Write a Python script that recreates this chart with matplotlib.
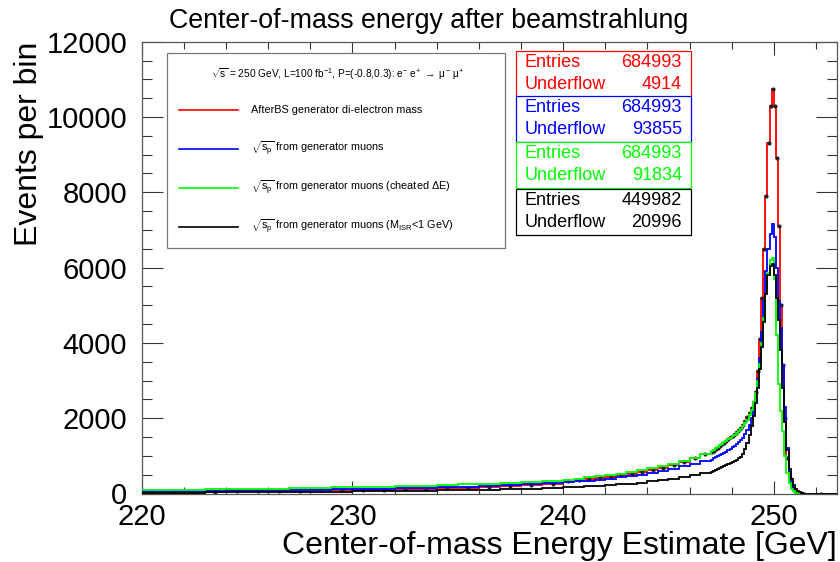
import numpy as np
import matplotlib
matplotlib.use('Agg')
import matplotlib.pyplot as plt
from matplotlib.patches import Rectangle
from matplotlib.lines import Line2D

plt.rcParams['font.family'] = ['Liberation Sans', 'DejaVu Sans']
plt.rcParams['mathtext.fontset'] = 'custom'
plt.rcParams['mathtext.rm'] = 'Liberation Sans'
plt.rcParams['mathtext.it'] = 'Liberation Sans'

# bin edges: 1 GeV up to 240, 0.5 GeV up to 247, 0.1 GeV up to 251.5, one empty bin to 253
edges = np.concatenate([np.arange(220, 240, 1.0),
                        np.arange(240, 247, 0.5),
                        np.round(np.arange(247, 251.45, 0.1), 2),
                        [251.5, 253.0]])

red = [35, 40, 45, 50, 55, 60, 65, 70, 80, 85, 95, 105, 115, 125, 140, 155, 175, 195, 220, 250,
       340, 365, 390, 420, 450, 485, 525, 570, 625, 690, 760, 840, 930, 1040,
       1100, 1140, 1180, 1220, 1270, 1310, 1350, 1400, 1450, 1500,
       1540, 1580, 1630, 1680, 1740, 1820, 1920, 2030, 2150, 2280,
       2430, 2700, 3250, 4100, 5200, 6500, 7900, 9300, 10300, 10750,
       10300, 8900, 7100, 5000, 3400, 2000, 950, 400, 180, 90,
       40, 15, 5, 0, 0, 0]
blue = [60, 65, 70, 75, 80, 85, 90, 95, 105, 110, 120, 130, 140, 155, 165, 180, 200, 220, 245, 275,
        300, 320, 345, 370, 395, 425, 460, 500, 545, 600, 660, 725, 790, 860,
        900, 930, 960, 990, 1020, 1050, 1080, 1110, 1150, 1190,
        1230, 1270, 1310, 1360, 1410, 1480, 1570, 1680, 1820, 2000,
        2250, 2600, 3050, 3600, 4300, 5100, 5900, 6500, 6900, 7150,
        6800, 6000, 5100, 4400, 3400, 2300, 1200, 550, 280, 150,
        80, 40, 15, 5, 0, 0]
green = [90, 95, 100, 110, 115, 120, 130, 140, 150, 160, 170, 180, 195, 210, 225, 240, 260, 285, 310, 340,
         370, 395, 425, 455, 490, 530, 570, 615, 665, 725, 790, 860, 940, 1040,
         1120, 1160, 1200, 1240, 1280, 1320, 1360, 1400, 1440, 1480,
         1520, 1560, 1610, 1660, 1710, 1780, 1860, 1960, 2080, 2230,
         2420, 2680, 3000, 3450, 4000, 4650, 5300, 5850, 6200, 6250,
         5700, 4200, 2900, 2200, 1650, 1000, 550, 280, 130, 60,
         20, 5, 0, 0, 0, 0]
black = [20, 22, 25, 28, 30, 33, 36, 40, 45, 50, 55, 60, 65, 72, 80, 90, 100, 115, 130, 150,
         170, 180, 195, 210, 225, 245, 265, 290, 320, 355, 395, 440, 490, 550,
         580, 600, 625, 650, 675, 700, 725, 750, 775, 800,
         830, 860, 890, 930, 980, 1060, 1180, 1340, 1550, 1780,
         2050, 2400, 2800, 3300, 3900, 4550, 5300, 5800, 6050, 6100,
         5800, 5200, 4600, 3800, 2800, 1900, 1150, 650, 380, 220,
         130, 70, 30, 10, 0, 0]

colors = ['#ff0000', '#0000ff', '#00ff00', '#000000']
legend_labels = ['AfterBS generator di-electron mass',
                 r'$\sqrt{s_p}$ from generator muons',
                 r'$\sqrt{s_p}$ from generator muons (cheated $\Delta$E)',
                 r'$\sqrt{s_p}$ from generator muons (M$_{ISR}$<1 GeV)']
header = r'$\sqrt{s}$ = 250 GeV, L=100 fb$^{-1}$, P=(-0.8,0.3): e$^{-}$ e$^{+}$ $\rightarrow$ $\mu^{-}$ $\mu^{+}$'
entries = ['684993', '684993', '684993', '449982']
underflow = ['4914', '93855', '91834', '20996']

W, H = 840, 562
fig = plt.figure(figsize=(W / 100, H / 100), dpi=100)
ax = fig.add_axes([141.7 / W, 1 - 493.5 / H, (837 - 141.7) / W, (493.5 - 41.7) / H])


def fx(x):
    return x / W


def fy(y):
    return 1 - y / H


centers = 0.5 * (edges[1:] + edges[:-1])
ax.stairs(red, edges, color=colors[0], lw=1.3, baseline=None, zorder=2)
ax.plot(centers, red, 'o', ms=3, color='#222222', mec='none', zorder=2.5)
ax.stairs(blue, edges, color=colors[1], lw=1.3, baseline=None, zorder=3)
ax.stairs(green, edges, color=colors[2], lw=1.3, baseline=None, zorder=4)
ax.stairs(black, edges, color=colors[3], lw=1.3, baseline=None, zorder=5)

ax.set_xlim(220, 253)
ax.set_ylim(0, 12000)
ax.set_xticks([220, 230, 240, 250])
ax.set_xticks(np.arange(220, 253, 2), minor=True)
ax.set_yticks(np.arange(0, 12001, 2000))
ax.set_yticks(np.arange(0, 12001, 500), minor=True)
ax.tick_params(axis='both', which='both', direction='in', top=True, right=True,
               color='#333333', width=0.8, labelsize=21)
ax.tick_params(axis='x', which='major', length=9.5, pad=6.5)
ax.tick_params(axis='x', which='minor', length=4.8)
ax.tick_params(axis='y', which='major', length=15, pad=10.4)
ax.tick_params(axis='y', which='minor', length=7.5)
for s in ax.spines.values():
    s.set_color('#555555')
    s.set_linewidth(0.9)

ax.set_xlabel('Center-of-mass Energy Estimate [GeV]', fontsize=23, loc='right', labelpad=0)
ax.set_ylabel('Events per bin', fontsize=23, loc='top', labelpad=2)
fig.text(fx(429), fy(21), 'Center-of-mass energy after beamstrahlung', fontsize=19.3,
         ha='center', va='center')

# legend box
fig.add_artist(Rectangle((fx(167), fy(248)), fx(505 - 167), (248 - 53) / H,
                         transform=fig.transFigure, fc='white', ec='#777777', lw=0.9, zorder=10))
fig.text(fx(338), fy(74), header, fontsize=7.3, ha='center', va='center', zorder=11)
for i, (c, lab) in enumerate(zip(colors, legend_labels)):
    yy = fy(110 + 39 * i)
    fig.add_artist(Line2D([fx(179), fx(238)], [yy, yy], color=c, lw=1.2,
                          transform=fig.transFigure, zorder=11))
    fig.text(fx(251), yy, lab, fontsize=7.8, ha='left', va='center', zorder=11)

# stat boxes
box_tops = [51, 96, 142.5, 189]
for i, c in enumerate(colors):
    top = box_tops[i]
    h = 45.5
    fig.add_artist(Rectangle((fx(516), fy(top + h)), fx(690.5 - 516), h / H,
                             transform=fig.transFigure, fc='white', ec=c, lw=0.9,
                             zorder=10))
    fig.text(fx(525), fy(top + 11.5), 'Entries', color=c, fontsize=13, ha='left', va='center', zorder=11)
    fig.text(fx(682), fy(top + 11.5), entries[i], color=c, fontsize=13, ha='right', va='center', zorder=11)
    fig.text(fx(525), fy(top + 33.5), 'Underflow', color=c, fontsize=13, ha='left', va='center', zorder=11)
    fig.text(fx(682), fy(top + 33.5), underflow[i], color=c, fontsize=13, ha='right', va='center', zorder=11)

fig.savefig('out.png', dpi=100)
